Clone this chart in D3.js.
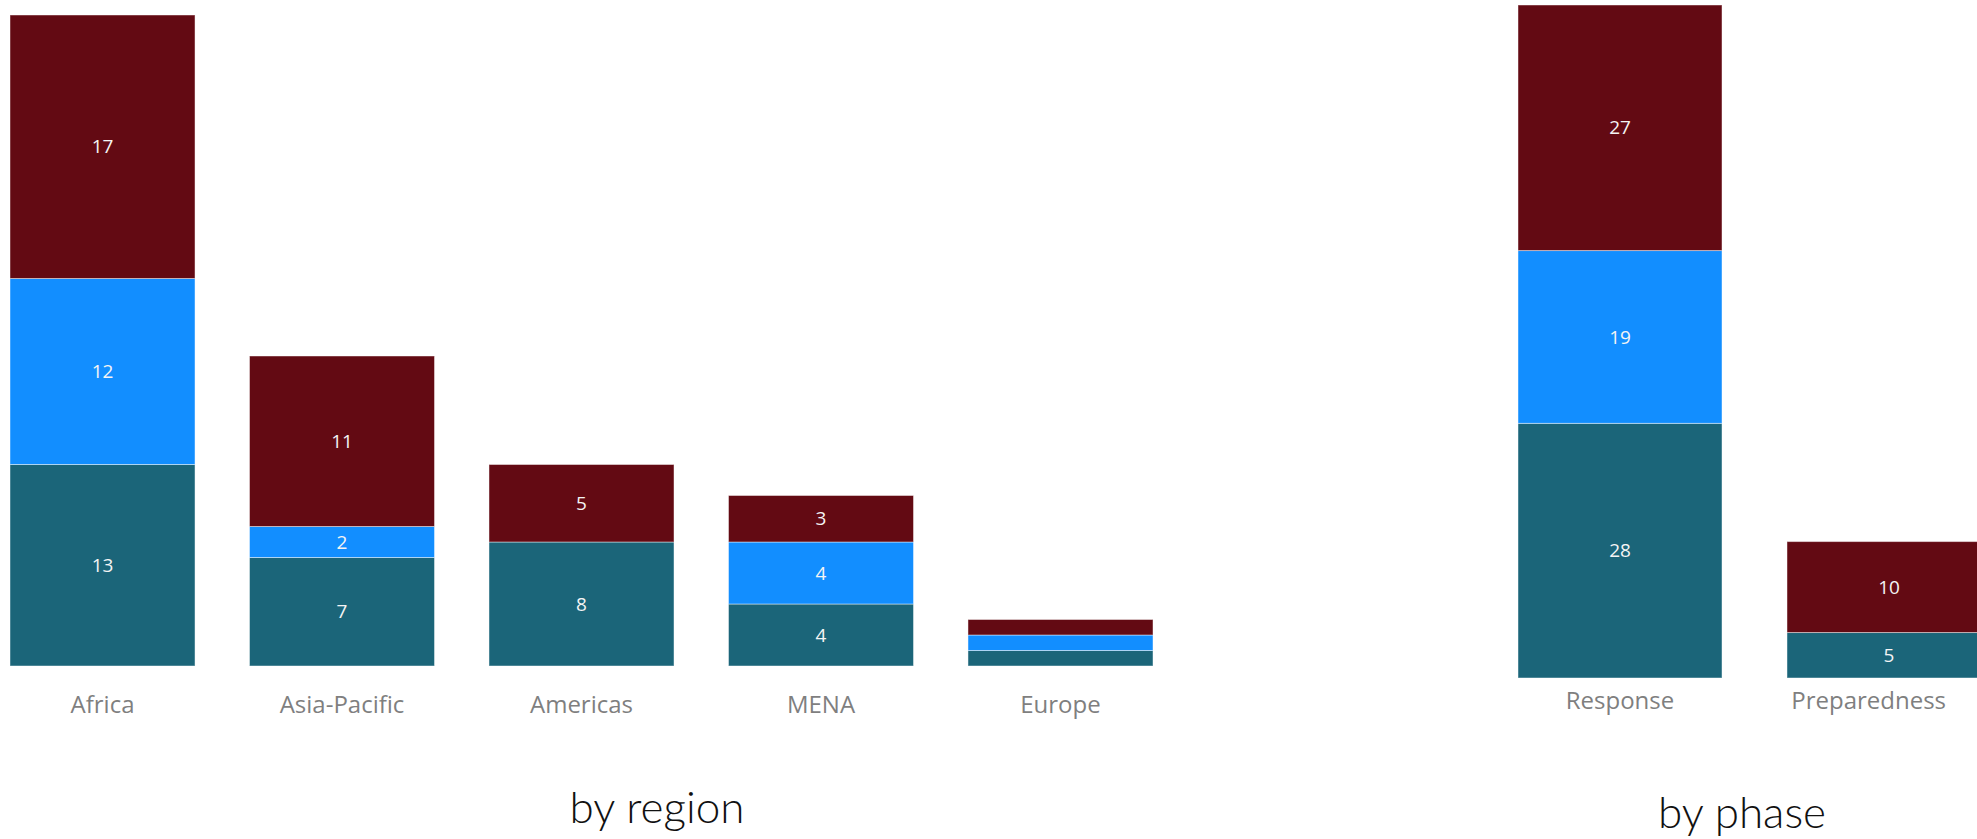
<!DOCTYPE html>
<html>
<head>
<meta charset="utf-8">
<script src="https://cdn.jsdelivr.net/npm/d3@7"></script>
<style>
  body { margin: 0; background: #fff; }
  svg { display: block; }
</style>
</head>
<body>
<div id="chart"></div>
<script>
// data
var regions = ["Africa", "Asia-Pacific", "Americas", "MENA", "Europe"];
var regionBottom = [13, 7, 8, 4, 1];
var regionMiddle = [12, 2, 0, 4, 1];
var regionTop = [17, 11, 5, 3, 1];

var phases = ["Response", "Preparedness"];
var phaseBottom = [28, 5];
var phaseMiddle = [19, 0];
var phaseTop = [27, 10];

var seriesKeys = ["bottom", "middle", "top"];
var colors = {bottom: "#1b6579", middle: "#128eff", top: "#630a13"};

var width = 1977, height = 839;

var svg = d3.select("#chart").append("svg")
    .attr("width", width)
    .attr("height", height);

function buildRows(cats, b, m, t) {
  return cats.map(function(c, i) {
    return {cat: c, bottom: b[i], middle: m[i], top: t[i]};
  });
}

function drawStack(opts) {
  var rows = buildRows(opts.cats, opts.bottom, opts.middle, opts.top);
  var stack = d3.stack().keys(seriesKeys)(rows);

  var x = d3.scaleBand()
      .domain(opts.cats)
      .range(opts.xRange)
      .paddingInner(opts.pad)
      .paddingOuter(0);

  var y = d3.scaleLinear()
      .domain([0, opts.yMax])
      .range(opts.yRange);

  var g = svg.append("g");

  var layer = g.selectAll(".layer")
      .data(stack)
    .enter().append("g")
      .attr("class", "layer")
      .attr("fill", function(d) { return colors[d.key]; });

  layer.selectAll("rect")
      .data(function(d) { return d; })
    .enter().append("rect")
      .attr("x", function(d) { return x(d.data.cat); })
      .attr("y", function(d) { return y(d[1]); })
      .attr("width", x.bandwidth())
      .attr("height", function(d) { return y(d[0]) - y(d[1]); })
      .attr("stroke", "rgba(255,255,255,0.45)")
      .attr("stroke-width", 1);

  // value labels, skipped where the segment is too thin
  layer.selectAll("text")
      .data(function(d) { return d.filter(function(s) { return y(s[0]) - y(s[1]) > 20; }); })
    .enter().append("text")
      .attr("x", function(d) { return x(d.data.cat) + x.bandwidth() / 2; })
      .attr("y", function(d) { return (y(d[0]) + y(d[1])) / 2; })
      .attr("dy", "0.35em")
      .attr("text-anchor", "middle")
      .attr("fill", "#f4f4f4")
      .style("font-family", "'Open Sans', sans-serif")
      .style("font-size", "19px")
      .text(function(d) { return d[1] - d[0]; });

  // category axis, no line or ticks
  var axis = g.append("g")
      .attr("transform", "translate(0," + opts.labelY + ")")
      .call(d3.axisBottom(x).tickSize(0).tickPadding(0));
  axis.select(".domain").remove();
  axis.selectAll("text")
      .attr("dy", 0)
      .attr("y", 0)
      .attr("fill", "#7f7f7f")
      .style("font-family", "'Open Sans', sans-serif")
      .style("font-size", "24px");

  // keep labels inside the visible area, like the original does
  if (opts.labelMaxX) {
    axis.selectAll(".tick").each(function() {
      var t = d3.select(this).select("text");
      var box = t.node().getBBox();
      var tx = +d3.select(this).attr("transform").match(/translate\(([-\d.]+)/)[1];
      var over = tx + box.x + box.width - opts.labelMaxX;
      if (over > 0) t.attr("x", -over);
    });
  }

  g.append("text")
      .attr("x", opts.titleX)
      .attr("y", opts.titleY)
      .attr("text-anchor", "middle")
      .attr("fill", "#111")
      .style("font-family", "Lato, sans-serif")
      .style("font-weight", 300)
      .style("font-size", "44px")
      .text(opts.title);
}

drawStack({
  cats: regions, bottom: regionBottom, middle: regionMiddle, top: regionTop,
  xRange: [10, 1153], pad: 0.2275, yMax: 42, yRange: [666, 15],
  labelY: 713, title: "by region", titleX: 657, titleY: 823
});

drawStack({
  cats: phases, bottom: phaseBottom, middle: phaseMiddle, top: phaseTop,
  xRange: [1518, 1991], pad: 0.2416, yMax: 74, yRange: [678, 5],
  labelY: 709, labelMaxX: 1946, title: "by phase", titleX: 1742, titleY: 828
});
</script>
</body>
</html>
